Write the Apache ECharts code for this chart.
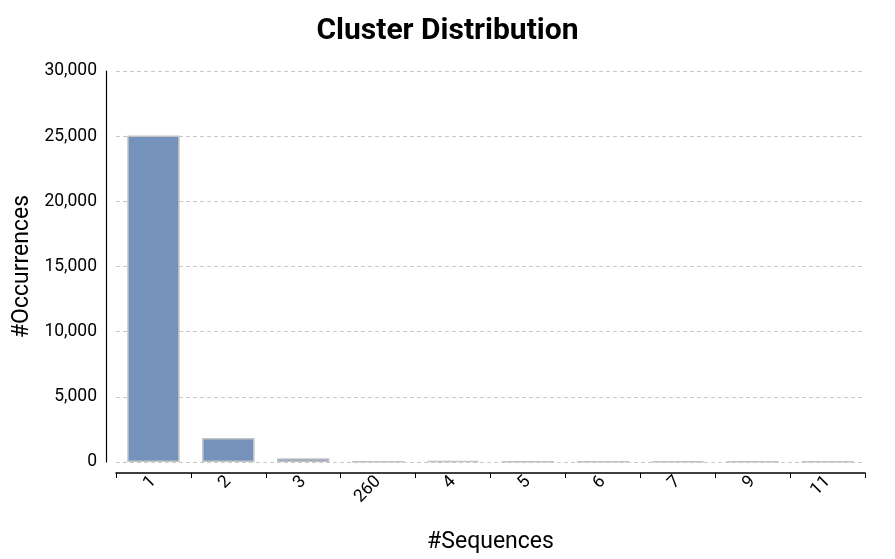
<!DOCTYPE html>
<html>
<head>
<meta charset="utf-8">
<script src="https://cdn.jsdelivr.net/npm/echarts@6/dist/echarts.min.js"></script>
<style>html,body{margin:0;padding:0;background:#fff;}#c{width:895px;height:559px;}</style>
</head>
<body>
<div id="c"></div>
<script>
const title = 'Cluster Distribution';
const categories = ['1', '2', '3', '260', '4', '5', '6', '7', '9', '11'];
const occurrences = [25050, 1850, 280, 20, 90, 30, 30, 25, 20, 20];
const yTicks = [0, 5000, 10000, 15000, 20000, 25000, 30000];

const chart = echarts.init(document.getElementById('c'));
chart.setOption({
  animation: false,
  backgroundColor: '#fff',
  textStyle: { fontFamily: 'Roboto' },
  title: {
    text: title, left: 'center', top: 11,
    textStyle: { fontFamily: 'Roboto', fontWeight: 'bold', fontSize: 30, color: '#000' }
  },
  grid: { left: 116, right: 30, top: 71, bottom: 97, containLabel: false, outerBoundsMode: 'none' },
  xAxis: {
    type: 'category',
    data: categories,
    offset: 11,
    name: '#Sequences', nameLocation: 'middle', nameGap: 58, nameMoveOverlap: false,
    nameTextStyle: { fontSize: 23, color: '#000' },
    axisLine: { onZero: false, lineStyle: { color: '#000', width: 1.5 } },
    axisTick: { show: true, length: 5, lineStyle: { color: '#000' } },
    axisLabel: { rotate: 45, fontSize: 17.5, color: '#000', margin: 6 },
    splitLine: { show: false }
  },
  yAxis: {
    type: 'value',
    min: yTicks[0], max: yTicks[yTicks.length - 1], interval: 5000,
    offset: 10,
    name: '#Occurrences', nameLocation: 'middle', nameGap: 72, nameMoveOverlap: false,
    nameTextStyle: { fontSize: 23, color: '#000' },
    axisLine: { show: true, onZero: false, lineStyle: { color: '#000', width: 1.2 } },
    axisTick: { show: false },
    axisLabel: {
      fontSize: 17.5, color: '#000', margin: 9,
      formatter: v => v.toLocaleString('en-US')
    },
    splitLine: { lineStyle: { color: '#c8c8c8', type: [4, 3] } }
  },
  series: [{
    type: 'bar',
    data: occurrences,
    barWidth: '70%',
    itemStyle: { color: '#7592ba', borderColor: '#c4c4c4', borderWidth: 1.5 }
  }]
});
</script>
</body>
</html>
